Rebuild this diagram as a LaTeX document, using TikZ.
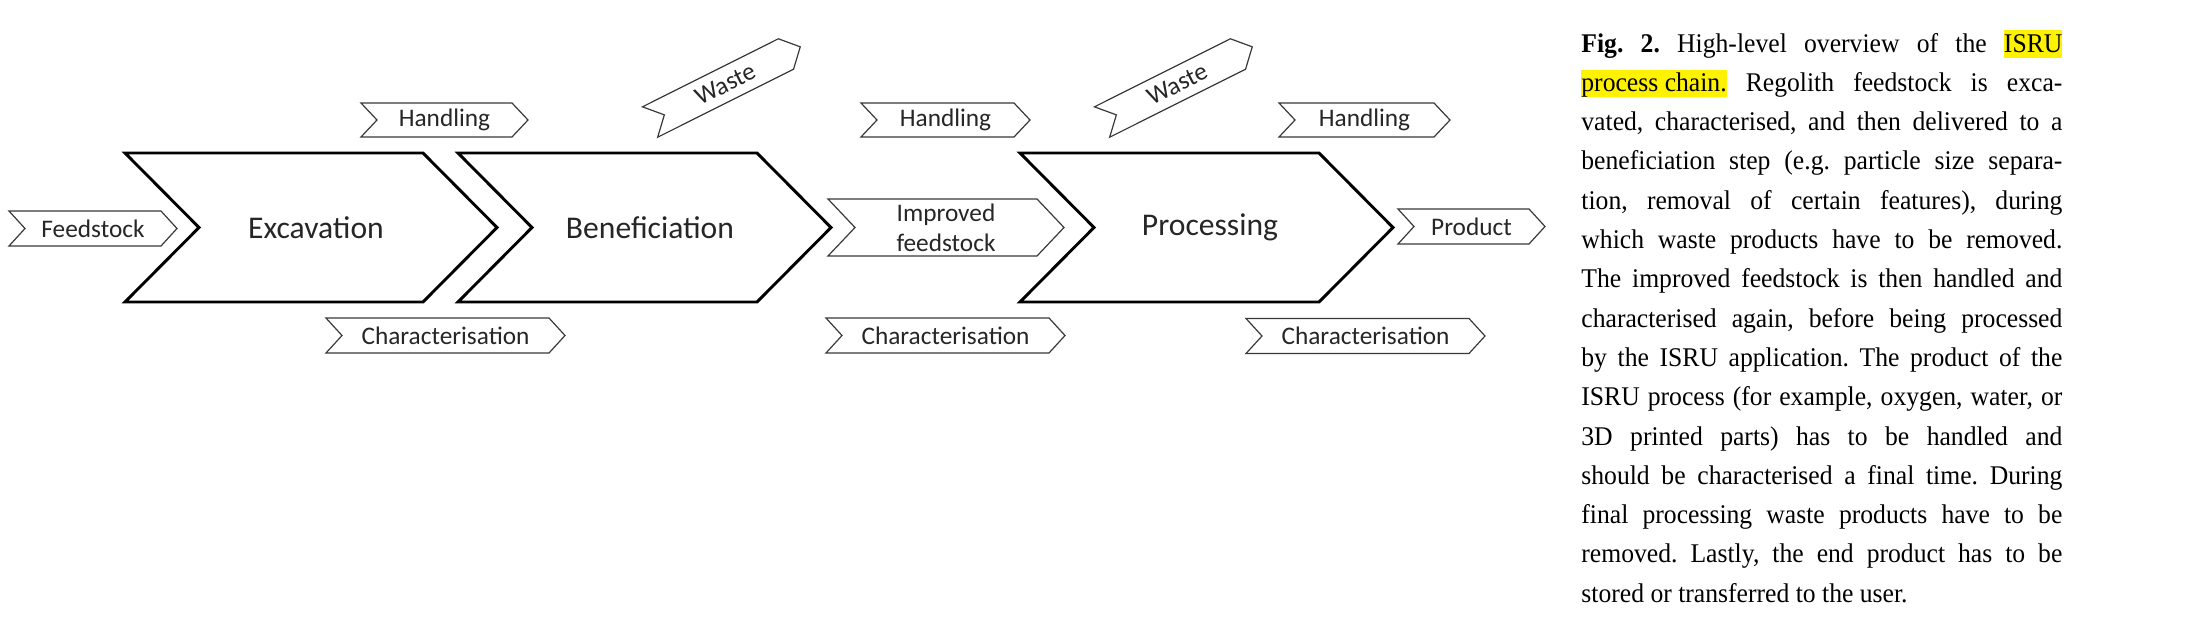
\documentclass[tikz,border=0pt]{standalone}
\usepackage{fontspec}
\setmainfont{Liberation Serif}[FakeStretch=0.95]
\newfontfamily\diagfont{Carlito}
\usetikzlibrary{calc}
\definecolor{hly}{HTML}{FFF200}
\definecolor{ink}{HTML}{262626}
\definecolor{edgegray}{HTML}{3A3A3A}
\newlength\capw
\setlength\capw{240.5pt}
\newcommand\capline[1]{\hbox to \capw{#1}}
\newcommand\hlt[1]{{\setlength\fboxsep{0pt}\colorbox{hly}{\rule[-3pt]{0pt}{13.8pt}#1}}}
% #2 left x, #3 tip x, #4 mid y, #5 half height, #6 depth
\newcommand\chevshape[6][]{\draw[#1] ({#2},{#4-#5}) -- ({#3-#6},{#4-#5}) -- ({#3},{#4}) -- ({#3-#6},{#4+#5}) -- ({#2},{#4+#5}) -- ({#2+#6},{#4}) -- cycle;}
\begin{document}
\begin{tikzpicture}[x=0.5pt,y=-0.5pt,
  bigchev/.style={draw=black, line width=1.45pt, line join=miter, fill=white},
  smallchev/.style={draw=edgegray, line width=0.6pt, line join=miter, fill=white},
  biglbl/.style={text=ink, inner sep=0pt, font=\diagfont\fontsize{15.8pt}{19pt}\selectfont},
  smalllbl/.style={text=ink, inner sep=0pt, align=center, font=\diagfont\fontsize{12.65pt}{15pt}\selectfont}]
\useasboundingbox[fill=white] (0,0) rectangle (2196,632);

% main process chevrons
\chevshape[bigchev]{125}{497}{227.5}{74.5}{74}
\chevshape[bigchev]{458}{831}{227.5}{74.5}{74}
\chevshape[bigchev]{1020}{1393}{227.5}{74.5}{74}
\node[biglbl] (exc) at (316,227.5) {Excavation};
\node[biglbl] (ben) at (650,227.5) {Beneficiation};
\node[biglbl] (proc) at (1210,227.5) {Processing};

% small chevrons
\chevshape[smallchev]{9}{177}{228.5}{17.5}{16}
\node[smalllbl] (feed) at (93,228.5) {Feedstock};

\chevshape[smallchev]{361}{528}{120}{17}{16}
\node[smalllbl] (hand1) at (444.5,120) {Handling};
\chevshape[smallchev]{861}{1030}{120}{17}{16}
\node[smalllbl] (hand2) at (945.5,120) {Handling};
\chevshape[smallchev]{1279}{1450}{120}{17}{16}
\node[smalllbl] (hand3) at (1364.5,120) {Handling};

\chevshape[smallchev]{326}{565}{335.5}{17.5}{16}
\node[smalllbl] (char1) at (445.5,335.5) {Characterisation};
\chevshape[smallchev]{826}{1065}{335.5}{17.5}{16}
\node[smalllbl] (char2) at (945.5,335.5) {Characterisation};
\chevshape[smallchev]{1246}{1485}{336}{17.5}{16}
\node[smalllbl] (char3) at (1365.5,336) {Characterisation};

\chevshape[smallchev]{828}{1064}{227.5}{28.5}{27}
\node[smalllbl] (impf) at (946,227.5) {Improved\\feedstock};

\chevshape[smallchev]{1398}{1545}{226.5}{17.5}{16}
\node[smalllbl] (prod) at (1471.5,226.5) {Product};

\begin{scope}[shift={(718,88)}, rotate=26.6]
\chevshape[smallchev]{-76}{92}{0}{17}{16}
\node[smalllbl, rotate=26.6] (waste1) at (8,0) {Waste};
\end{scope}
\begin{scope}[shift={(1170,88)}, rotate=26.6]
\chevshape[smallchev]{-76}{92}{0}{17}{16}
\node[smalllbl, rotate=26.6] (waste2) at (8,0) {Waste};
\end{scope}

% caption
\node[anchor=base west, inner sep=0pt, font=\fontsize{13.5pt}{19.65pt}\selectfont] (caption) at (1581,52)
{\parbox[t]{\capw}{\frenchspacing\baselineskip=19.65pt
\capline{\textbf{Fig. 2.} High-level overview of the \hlt{ISRU}}
\capline{\hlt{process chain.} Regolith feedstock is exca-}
\capline{vated, characterised, and then delivered to a}
\capline{beneficiation step (e.g. particle size separa-}
\capline{tion, removal of certain features), during}
\capline{which waste products have to be removed.}
\capline{The improved feedstock is then handled and}
\capline{characterised again, before being processed}
\capline{by the ISRU application. The product of the}
\capline{ISRU process (for example, oxygen, water, or}
\capline{3D printed parts) has to be handled and}
\capline{should be characterised a final time. During}
\capline{final processing waste products have to be}
\capline{removed. Lastly, the end product has to be}
\hbox{stored or transferred to the user.}}};
\end{tikzpicture}
\end{document}
